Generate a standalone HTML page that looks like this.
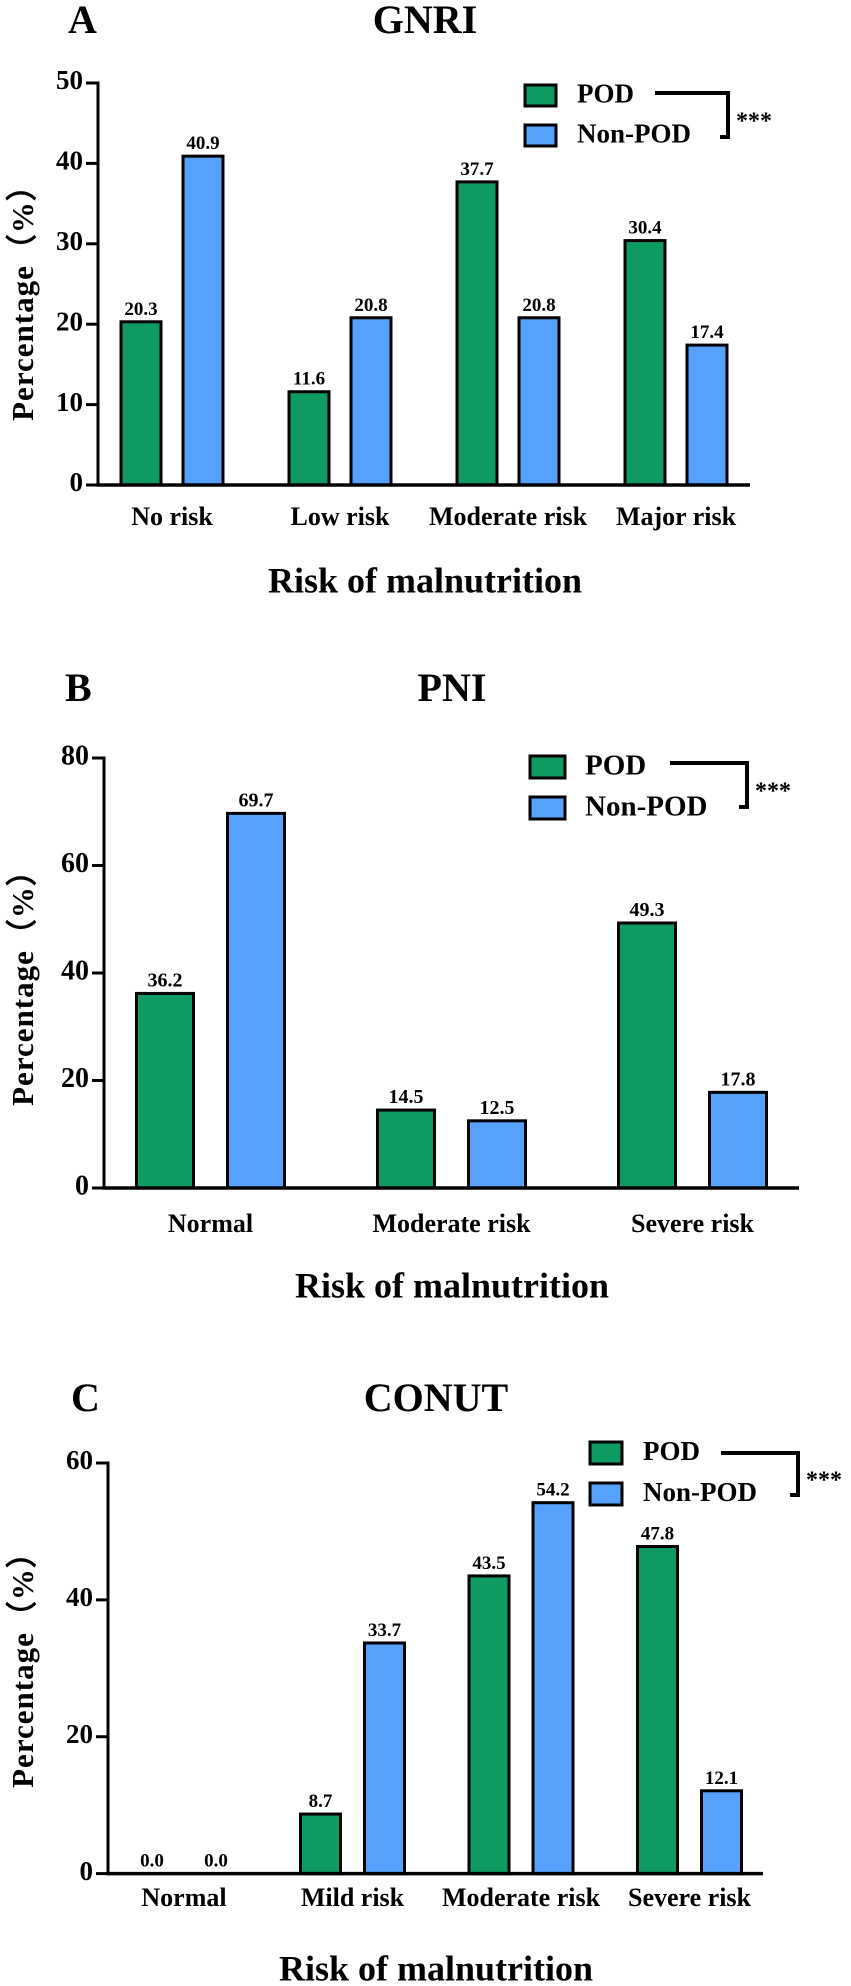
<!DOCTYPE html>
<html><head><meta charset="utf-8"><style>
html,body{margin:0;padding:0;background:#fff;}
svg{display:block;font-family:"Liberation Serif","Times New Roman",serif;font-weight:bold;}
</style></head><body>
<svg id="fig" width="851" height="1986" viewBox="0 0 851 1986" xmlns="http://www.w3.org/2000/svg"></svg>
<script>
const gnriCategories = ["No risk","Low risk","Moderate risk","Major risk"];
const gnriPod = [20.3, 11.6, 37.7, 30.4];
const gnriNonPod = [40.9, 20.8, 20.8, 17.4];
const gnriTicks = [0,10,20,30,40,50];

const pniCategories = ["Normal","Moderate risk","Severe risk"];
const pniPod = [36.2, 14.5, 49.3];
const pniNonPod = [69.7, 12.5, 17.8];
const pniTicks = [0,20,40,60,80];

const conutCategories = ["Normal","Mild risk","Moderate risk","Severe risk"];
const conutPod = [0.0, 8.7, 43.5, 47.8];
const conutNonPod = [0.0, 33.7, 54.2, 12.1];
const conutTicks = [0,20,40,60];

const GREEN = "#0f9a62", BLUE = "#56a1fb";
const svg = document.getElementById('fig');
const NS = "http://www.w3.org/2000/svg";
function mk(tag, attrs, parent, text){
  const e = document.createElementNS(NS, tag);
  for (const k in attrs) e.setAttribute(k, attrs[k]);
  if (text !== undefined) e.textContent = text;
  (parent||svg).appendChild(e);
  return e;
}

function panel(p){
  const g = mk('g', {});
  
  
  const yScale = v => p.y0 - (v / p.max) * (p.y0 - p.yTop);
  const xScale = i => p.g0 + i * p.gs;

  const lt = mk('text', {x:p.letterX, y:p.titleY, 'font-size':40, 'dominant-baseline':'middle'}, g, p.letter);
  
  
  const tt = mk('text', {x:p.titleX, y:p.titleY, 'font-size':40, 'text-anchor':'middle', 'dominant-baseline':'middle'}, g, p.title);
  
  

  // bars
  p.cats.forEach((c, i) => {
    const cx = xScale(i);
    [[p.pod, GREEN, -1, 'pod'], [p.non, BLUE, 1, 'non-pod']].forEach(([arr, col, s, nm]) => {
      const v = arr[i];
      const bx = cx + s * p.off - p.bw / 2;
      const top = yScale(v);
      if (v > 0) {
        const r = mk('rect', {x:bx, y:top, width:p.bw, height:p.y0 - top, fill:col, stroke:'#000', 'stroke-width':3}, g);
        
        
      }
      const lb = mk('text', {x:bx + p.bw/2, y:top - 7, 'font-size':p.vfs, 'text-anchor':'middle'}, g, v.toFixed(1));
      
      
    });
    const cl = mk('text', {x:cx, y:p.catY, 'font-size':26, 'text-anchor':'middle', 'dominant-baseline':'middle'}, g, c);
    
    
  });

  // axes
  const ya = mk('line', {x1:p.x0, y1:p.yTop - 1.5, x2:p.x0, y2:p.y0 + 1.5, stroke:'#000', 'stroke-width':3}, g);
  
  
  const xa = mk('line', {x1:p.x0 - 1.5, y1:p.y0, x2:p.xEnd, y2:p.y0, stroke:'#000', 'stroke-width':3.5}, g);
  
  
  p.ticks.forEach(t => {
    const y = yScale(t);
    const tk = mk('line', {x1:p.x0 - 12, y1:y, x2:p.x0, y2:y, stroke:'#000', 'stroke-width':3}, g);
    
    
    const tl = mk('text', {x:p.x0 - 15, y:y, 'font-size':p.tfs, 'text-anchor':'end', 'dominant-baseline':'middle'}, g, String(t));
    
    
  });
  const yt = mk('text', {x:0, y:0, 'font-size':31, 'text-anchor':'middle', 'dominant-baseline':'middle',
    transform:'translate(' + p.ytX + ',' + p.ytY + ') rotate(-90)', 'letter-spacing':'1'}, g, 'Percentage（%）');
  
  
  const xt = mk('text', {x:p.xtX, y:p.xtY, 'font-size':36, 'text-anchor':'middle', 'dominant-baseline':'middle'}, g, 'Risk of malnutrition');
  
  

  // legend
  const L = p.leg;
  const s1 = mk('rect', {x:L.x, y:L.y1, width:L.w, height:L.h, fill:GREEN, stroke:'#000', 'stroke-width':3}, g);
  
  
  const s2 = mk('rect', {x:L.x, y:L.y2, width:L.w, height:L.h, fill:BLUE, stroke:'#000', 'stroke-width':3}, g);
  
  
  const t1 = mk('text', {x:L.tx, y:L.y1 + L.h/2 + 1, 'font-size':L.fs, 'dominant-baseline':'middle'}, g, 'POD');
  
  
  const t2 = mk('text', {x:L.tx, y:L.y2 + L.h/2 + 1, 'font-size':L.fs, 'dominant-baseline':'middle'}, g, 'Non-POD');
  
  
  const br = mk('path', {d:'M' + L.bx1 + ' ' + L.by1 + ' H' + L.bx2 + ' V' + L.by2 + ' H' + (L.bx2 - 8),
    fill:'none', stroke:'#000', 'stroke-width':4}, g);
  
  
  const st = mk('text', {x:L.bx2 + 8, y:(L.by1 + L.by2)/2 + 8, 'font-size':24, 'dominant-baseline':'middle'}, g, '***');
  
  
}

panel({id:'gnri', letter:'A', title:'GNRI', letterX:68, titleX:425, titleY:24,
  cats:gnriCategories, pod:gnriPod, non:gnriNonPod, ticks:gnriTicks, max:50,
  x0:98, xEnd:750, y0:485, yTop:83, g0:172, gs:168, off:31, bw:40, vfs:19, tfs:27,
  catY:519, ytX:26, ytY:295, xtX:425, xtY:584,
  leg:{x:525, y1:85, y2:125, w:31, h:21, tx:577, fs:27, bx1:655, by1:93, bx2:728, by2:137}});

panel({id:'pni', letter:'B', title:'PNI', letterX:65, titleX:452, titleY:692,
  cats:pniCategories, pod:pniPod, non:pniNonPod, ticks:pniTicks, max:80,
  x0:104, xEnd:799, y0:1188, yTop:758, g0:210.5, gs:241, off:45.5, bw:57, vfs:20, tfs:28,
  catY:1226, ytX:26, ytY:980, xtX:452, xtY:1289,
  leg:{x:530, y1:756, y2:797, w:35, h:22, tx:585, fs:29, bx1:670, by1:763, bx2:747, by2:807}});

panel({id:'conut', letter:'C', title:'CONUT', letterX:71, titleX:436, titleY:1402,
  cats:conutCategories, pod:conutPod, non:conutNonPod, ticks:conutTicks, max:60,
  x0:108, xEnd:763, y0:1873.6, yTop:1463, g0:184, gs:168.5, off:32, bw:40, vfs:19, tfs:27,
  catY:1900, ytX:26, ytY:1662, xtX:436, xtY:1972,
  leg:{x:590, y1:1442, y2:1483, w:32, h:22, tx:643, fs:27, bx1:721, by1:1453, bx2:798, by2:1495}});
</script>
</body></html>
